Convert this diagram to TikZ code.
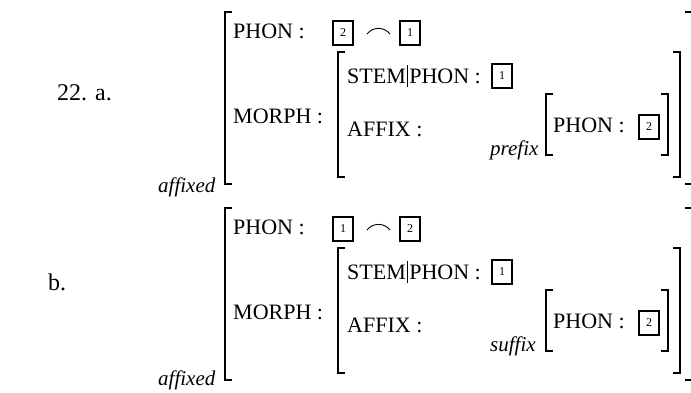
\documentclass[tikz,border=0pt]{standalone}
\usepackage{fontspec}
\setmainfont{Liberation Serif}
\usetikzlibrary{calc}

\begin{document}
\begin{tikzpicture}[x=1pt,y=-1pt,
  feat/.style={anchor=base west, inner sep=0pt, font=\fontsize{22}{26}\selectfont},
  sortlbl/.style={feat, font=\fontsize{21}{24}\selectfont\itshape},
  exlbl/.style={feat, font=\fontsize{24}{28}\selectfont},
  tagbox/.style={draw, line width=1.6pt, minimum width=20pt, minimum height=24pt, inner sep=0pt, font=\fontsize{12}{13}\selectfont},
  concat/.style={line width=0.9pt},
  brack/.style={line width=1.3pt},
]
\newcommand\LBr[3]{(#1+7,#2) -- (#1,#2) -- (#1,#3) -- (#1+7,#3)}
\newcommand\RBr[3]{(#1-7,#2) -- (#1,#2) -- (#1,#3) -- (#1-7,#3)}
\useasboundingbox (0,0) rectangle (691,392);

% example a: prefix
\node [exlbl] (numA) at (57,100) {22. a.};
\draw [brack] \LBr{225}{12}{184};
\draw [brack] \RBr{692}{12}{184};
\node [sortlbl] (sortA) at (158,192) {affixed};
\node [feat] (phonA) at (233,38) {PHON :};
\node [tagbox] (tagAi) at (343,33) {2};
\draw [concat] (367,34) .. controls (373,26.5) and (384,26.5) .. (390,34);
\node [tagbox] (tagAii) at (410,33) {1};
\node [feat] (morphA) at (233,123) {MORPH :};
\draw [brack] \LBr{338}{52}{177};
\draw [brack] \RBr{680}{52}{177};
\node [feat] (stemA) at (347,83) {STEM};
\draw [thin] ($(stemA.base east)+(1.5,4)$) -- ++(0,-22);
\node [feat, xshift=3pt] (stemphonA) at (stemA.base east) {PHON :};
\node [tagbox] (tagAiii) at (502,76) {1};
\node [feat] (affixA) at (347,136) {AFFIX :};
\node [sortlbl] (prefA) at (490,155) {prefix};
\draw [brack] \LBr{546}{94}{155};
\draw [brack] \RBr{668}{94}{155};
\node [feat] (affphonA) at (553,132) {PHON :};
\node [tagbox] (tagAiv) at (649,127) {2};

% example b: suffix
\node [exlbl] (numB) at (48,290) {b.};
\draw [brack] \LBr{225}{208}{380};
\draw [brack] \RBr{692}{208}{380};
\node [sortlbl] (sortB) at (158,385) {affixed};
\node [feat] (phonB) at (233,234) {PHON :};
\node [tagbox] (tagBi) at (343,229) {1};
\draw [concat] (367,230) .. controls (373,222.5) and (384,222.5) .. (390,230);
\node [tagbox] (tagBii) at (410,229) {2};
\node [feat] (morphB) at (233,319) {MORPH :};
\draw [brack] \LBr{338}{248}{373};
\draw [brack] \RBr{680}{248}{373};
\node [feat] (stemB) at (347,279) {STEM};
\draw [thin] ($(stemB.base east)+(1.5,4)$) -- ++(0,-22);
\node [feat, xshift=3pt] (stemphonB) at (stemB.base east) {PHON :};
\node [tagbox] (tagBiii) at (502,272) {1};
\node [feat] (affixB) at (347,332) {AFFIX :};
\node [sortlbl] (sufB) at (490,351) {suffix};
\draw [brack] \LBr{546}{290}{351};
\draw [brack] \RBr{668}{290}{351};
\node [feat] (affphonB) at (553,328) {PHON :};
\node [tagbox] (tagBiv) at (649,323) {2};
\end{tikzpicture}
\end{document}
